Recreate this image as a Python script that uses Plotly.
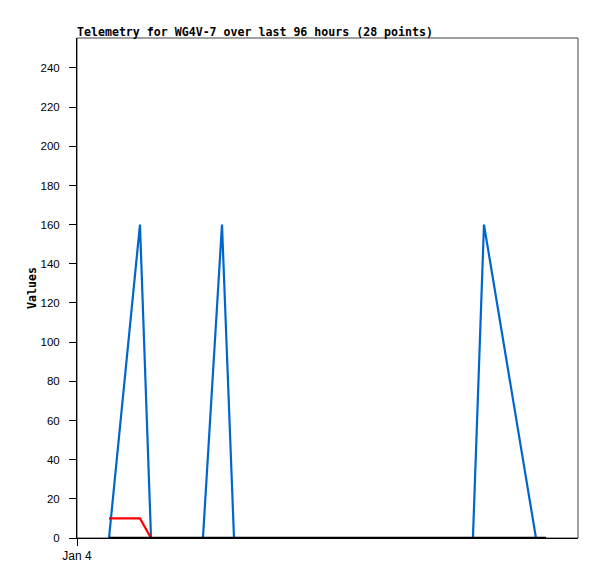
import plotly.graph_objects as go

# ---- data ----
blue_times = ["2025-01-04 06:08", "2025-01-04 12:04", "2025-01-04 14:11",
              "2025-01-05 00:08", "2025-01-05 03:47", "2025-01-05 06:05",
              "2025-01-07 03:52", "2025-01-07 05:59", "2025-01-07 15:57",
              "2025-01-07 17:52"]
blue_values = [0, 160, 0, 0, 160, 0, 0, 160, 0, 0]

red_times = ["2025-01-04 06:08", "2025-01-04 12:04", "2025-01-04 14:11",
             "2025-01-07 17:52"]
red_values = [10, 10, 0, 0]

black_times = ["2025-01-04 06:08", "2025-01-07 17:52"]
black_values = [0, 0]

x_range = ["2025-01-04 00:00", "2025-01-08 00:00"]
x_tickvals = ["2025-01-04 00:00"]
x_ticktext = ["Jan 4"]
y_tickvals = list(range(0, 241, 20))
y_range = [0, 255.3]

title_text = "Telemetry for WG4V-7 over last 96 hours (28 points)"

# page body adds an 8px offset; size the figure to compensate
W, H = 589, 571

fig = go.Figure()
fig.add_trace(go.Scatter(x=blue_times, y=blue_values, mode="lines",
                         line=dict(color="#0066cc", width=2.2), showlegend=False))
fig.add_trace(go.Scatter(x=red_times, y=red_values, mode="lines",
                         line=dict(color="#ff0000", width=2.2), showlegend=False))
fig.add_trace(go.Scatter(x=black_times, y=black_values, mode="lines",
                         line=dict(color="#000000", width=2.5), showlegend=False))

# gray frame (top/right)
fig.add_shape(type="rect", xref="paper", yref="paper", x0=0, y0=0, x1=1, y1=1,
              line=dict(color="#444444", width=1), layer="below")

fig.update_layout(
    width=W, height=H,
    margin=dict(l=69, r=19, t=30, b=41, autoexpand=False),
    paper_bgcolor="white", plot_bgcolor="white",
    title=dict(text="<b>" + title_text + "</b>", x=69 / W, xanchor="left",
               xref="container", y=1 - 23.5 / H, yanchor="middle", yref="container",
               font=dict(family="DejaVu Sans Mono", size=11.6, color="black")),
    xaxis=dict(type="date", range=x_range, tickvals=x_tickvals, ticktext=x_ticktext,
               showgrid=False, zeroline=False, showline=True, linecolor="black",
               linewidth=1, ticks="outside", ticklen=7, tickcolor="black",
               ticklabelstandoff=0,
               tickfont=dict(family="Liberation Sans", size=12, color="black")),
    yaxis=dict(range=y_range, tickvals=y_tickvals, showgrid=False, zeroline=False,
               showline=True, linecolor="black", linewidth=1, ticks="outside",
               ticklen=7, tickcolor="black", ticklabelstandoff=7,
               tickfont=dict(family="Liberation Sans", size=11.5, color="black"),
               title=dict(text="<b>Values</b>", standoff=1,
                          font=dict(family="DejaVu Sans Mono", size=11.6, color="black"))),
)

fig.write_html("out.html")
